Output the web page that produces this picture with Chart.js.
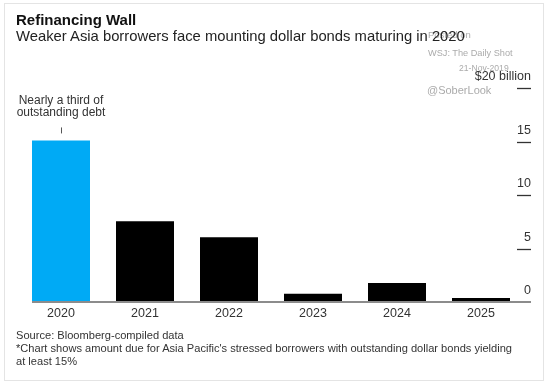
<!DOCTYPE html>
<html>
<head>
<meta charset="utf-8">
<script src="https://cdn.jsdelivr.net/npm/chart.js@4/dist/chart.umd.min.js"></script>
<style>
  html, body { margin: 0; padding: 0; background: #fff; }
  #wrap {
    position: relative; width: 548px; height: 385px; overflow: hidden;
    font-family: "Liberation Sans", Arial, Helvetica, sans-serif; color: #222;
  }
  #frame { position: absolute; left: 4px; top: 3px; width: 538px; height: 376px; border: 1px solid #e4e4e4; }
  canvas { position: absolute; left: 0; top: 0; }
  .t { position: absolute; white-space: nowrap; }
  .wm { color: #ababab; }
  #title    { left: 16px; top: 12.3px; font-size: 15px; line-height: 15px; font-weight: bold; color: #111; }
  #subtitle { left: 16px; top: 29px;   font-size: 14.8px; line-height: 15px; color: #222; }
  #posted   { left: 428px; top: 30px;  font-size: 9.5px; line-height: 10px; }
  #wsj      { left: 428px; top: 48px;  font-size: 9.2px; line-height: 10px; }
  #date     { left: 459px; top: 64px;  font-size: 8.6px; line-height: 9px; }
  #handle   { left: 427px; top: 84.5px; font-size: 11px; line-height: 11px; }
  #note     { left: 1px; top: 93.6px; width: 120px; text-align: center; font-size: 12px; line-height: 12.7px; color: #333; }
  #footer   { left: 16px; top: 328.5px; font-size: 11.1px; line-height: 13px; color: #333; }
</style>
</head>
<body>
<div id="wrap">
  <div id="frame"></div>
  <canvas id="chart" width="548" height="385"></canvas>
  <div class="t wm" id="posted">Posted on</div>
  <div class="t wm" id="wsj">WSJ: The Daily Shot</div>
  <div class="t wm" id="date">21-Nov-2019</div>
  <div class="t wm" id="handle">@SoberLook</div>
  <div class="t" id="title">Refinancing Wall</div>
  <div class="t" id="subtitle">Weaker Asia borrowers face mounting dollar bonds maturing in 2020</div>
  <div class="t" id="note">Nearly a third of<br>outstanding debt</div>
  <div class="t" id="footer">Source: Bloomberg-compiled data<br>*Chart shows amount due for Asia Pacific's stressed borrowers with outstanding dollar bonds yielding<br>at least 15%</div>
</div>
<script>
'use strict';

// ── Data ──────────────────────────────────────────────────────────────────────
const YEARS    = ['2020', '2021', '2022', '2023', '2024', '2025'];
const AMOUNTS  = [15.1, 7.55, 6.05, 0.78, 1.78, 0.37];   // $ billion
const Y_TICKS  = [0, 5, 10, 15, 20];
const Y_LABELS = ['0', '5', '10', '15', '$20 billion'];
const HIGHLIGHT = '2020';

const BLUE  = '#00aaf5';
const BLACK = '#000000';
const FONT  = '"Liberation Sans", Arial, Helvetica, sans-serif';

// ── Baseline, right-hand tick dashes, annotation pointer ─────────────────────
const guides = {
  id: 'guides',
  afterDatasetsDraw(chart) {
    const { ctx, scales: { y } } = chart;
    const bars  = chart.getDatasetMeta(0).data;
    const first = bars[0];
    const y0 = y.getPixelForValue(0);

    ctx.save();
    ctx.strokeStyle = '#8c8c8c';
    ctx.lineWidth = 2;
    ctx.beginPath();
    ctx.moveTo(first.x - first.width / 2, y0);
    ctx.lineTo(y.right, y0);
    ctx.stroke();

    ctx.strokeStyle = '#333';
    ctx.lineWidth = 1.3;
    Y_TICKS.forEach(v => {
      if (v === 0) return;
      const py = Math.round(y.getPixelForValue(v)) + 0.5;
      ctx.beginPath();
      ctx.moveTo(y.right - 14, py);
      ctx.lineTo(y.right, py);
      ctx.stroke();
    });

    const hi = bars[YEARS.indexOf(HIGHLIGHT)];
    ctx.strokeStyle = '#555';
    ctx.lineWidth = 1;
    ctx.beginPath();
    ctx.moveTo(Math.round(hi.x) + 0.5, hi.y - 13);
    ctx.lineTo(Math.round(hi.x) + 0.5, hi.y - 7);
    ctx.stroke();
    ctx.restore();
  }
};

new Chart(document.getElementById('chart'), {
  type: 'bar',
  data: {
    labels: YEARS,
    datasets: [{
      data: AMOUNTS,
      backgroundColor: c => YEARS[c.dataIndex] === HIGHLIGHT ? BLUE : BLACK,
      borderWidth: 0,
      categoryPercentage: 1,
      barPercentage: 58 / 84,
    }]
  },
  options: {
    responsive: false,
    animation: false,
    devicePixelRatio: 1,
    layout: { padding: { left: 19, right: 17, top: 88, bottom: 63 } },
    plugins: { legend: { display: false }, tooltip: { enabled: false } },
    scales: {
      x: {
        grid:   { display: false, drawTicks: false },
        border: { display: false },
        ticks:  { color: '#333', padding: 4, font: { family: FONT, size: 12.5 } },
        afterFit: s => { s.height = 20; },
      },
      y: {
        position: 'right',
        min: 0, max: 20,
        afterBuildTicks: s => { s.ticks = Y_TICKS.map(v => ({ value: v })); },
        grid:   { display: false, drawTicks: false },
        border: { display: false },
        ticks: {
          color: '#333',
          mirror: true,
          padding: 8,
          labelOffset: -11,
          font: { family: FONT, size: 12.5 },
          callback: v => Y_LABELS[Y_TICKS.indexOf(v)],
        },
        afterFit: s => { s.width = 8; },
      }
    }
  },
  plugins: [guides]
});
</script>
</body>
</html>
